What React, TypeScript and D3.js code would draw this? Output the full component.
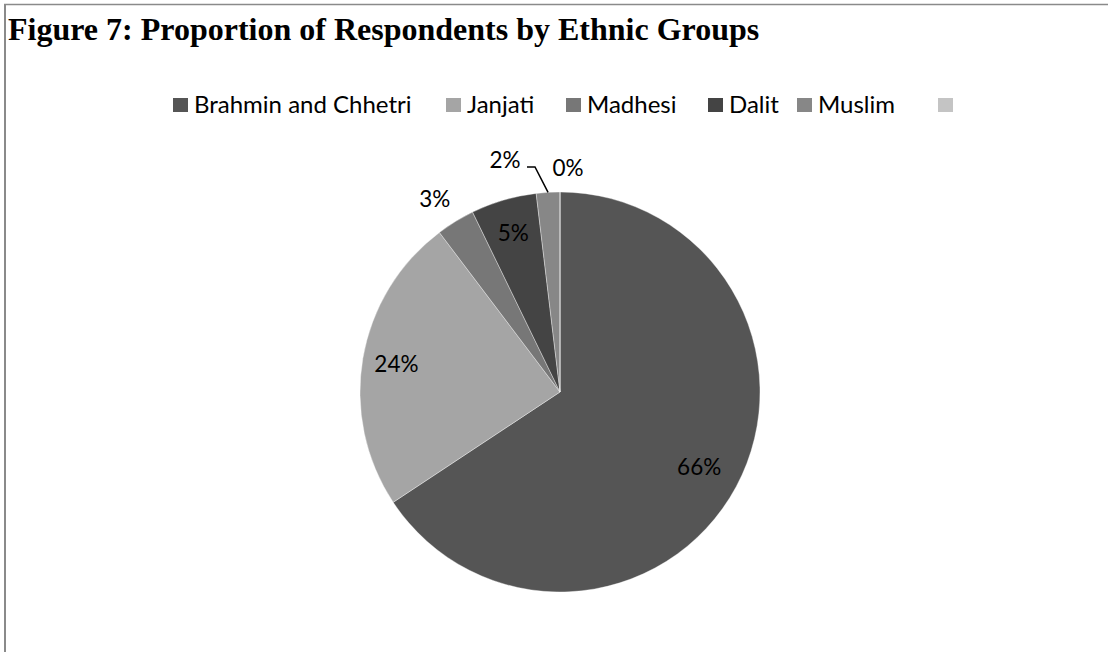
import React, { useEffect, useRef } from "react";
import * as d3 from "d3";

const categories = ["Brahmin and Chhetri", "Janjati", "Madhesi", "Dalit", "Muslim", ""];
const values = [65.7, 24.0, 3.1, 5.3, 1.9, 0.0];
const labels = ["66%", "24%", "3%", "5%", "2%", "0%"];
const colors = ["#555555", "#a5a5a5", "#777777", "#444444", "#878787", "#c4c4c4"];
const title = "Figure 7: Proportion of Respondents by Ethnic Groups";

const W = 1108;
const H = 652;

export default function App() {
  const ref = useRef<SVGSVGElement | null>(null);

  useEffect(() => {
    const svg = d3.select(ref.current);
    svg.selectAll("*").remove();

    // frame
    svg.append("line").attr("x1", 5).attr("x2", 5).attr("y1", 4).attr("y2", H)
      .attr("stroke", "#8a8a8a").attr("stroke-width", 2);
    svg.append("line").attr("x1", 4).attr("x2", W).attr("y1", 4.5).attr("y2", 4.5)
      .attr("stroke", "#8a8a8a").attr("stroke-width", 1.5);

    svg.append("text").attr("x", 8).attr("y", 40)
      .attr("font-family", "'Liberation Serif', 'Times New Roman', serif")
      .attr("font-weight", "bold").attr("font-size", 32).attr("fill", "#000")
      .text(title);

    // legend
    const legendX = [173, 446, 566, 708, 797, 938];
    const lg = svg.append("g").attr("font-family", "Lato, 'Open Sans', sans-serif")
      .attr("font-size", 24);
    categories.forEach((c, i) => {
      lg.append("rect").attr("x", legendX[i]).attr("y", 98).attr("width", 15).attr("height", 14)
        .attr("fill", colors[i]);
      lg.append("text").attr("x", legendX[i] + 21).attr("y", 113).attr("fill", "#000").text(c);
    });

    // pie
    const cx = 560, cy = 392, R = 200;
    const pie = d3.pie<number>().sort(null).value((d) => d);
    const arcs = pie(values);
    const arc = d3.arc<d3.PieArcDatum<number>>().innerRadius(0).outerRadius(R);
    const g = svg.append("g").attr("transform", `translate(${cx},${cy})`);
    g.selectAll("path").data(arcs).enter().append("path")
      .attr("d", arc as any)
      .attr("fill", (_d, i) => colors[i])
      .attr("stroke", "#ffffff").attr("stroke-width", 0.6).attr("stroke-opacity", 0.6);

    const pt = (angle: number, r: number) => [Math.sin(angle) * r, -Math.cos(angle) * r];

    const tg = g.append("g").attr("font-family", "Lato, 'Open Sans', sans-serif")
      .attr("font-size", 22.5).attr("fill", "#000").attr("text-anchor", "middle");

    arcs.forEach((a, i) => {
      const mid = (a.startAngle + a.endAngle) / 2;
      const share = values[i] / d3.sum(values);
      let x: number, y: number;
      if (share >= 0.04) {
        [x, y] = pt(mid, R * (share > 0.5 ? 0.79 : 0.83));
      } else if (i === 2) {
        [x, y] = pt(mid, R * 1.15);
        x -= 5; y += 3;
      } else if (i === 4) {
        // offset label with leader line
        const [ex, ey] = pt(mid, R);
        x = -55; y = -232;
        g.append("path")
          .attr("d", `M${x + 22},${y + 7}L${x + 30},${y + 7}L${ex},${ey}`)
          .attr("fill", "none").attr("stroke", "#000").attr("stroke-width", 1.5);
      } else {
        [x, y] = pt(a.startAngle, R * 1.12);
        x += 8;
      }
      tg.append("text").attr("x", x).attr("y", y).attr("dy", "0.35em").text(labels[i]);
    });
  }, []);

  return (
    <svg
      ref={ref}
      width={W}
      height={H}
      style={{ position: "absolute", left: 0, top: 0, background: "#fff" }}
    />
  );
}
